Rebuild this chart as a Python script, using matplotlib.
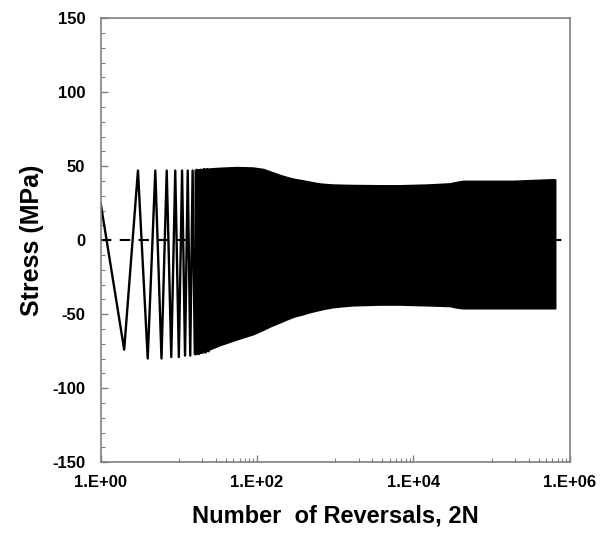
import matplotlib
matplotlib.use('Agg')
import matplotlib.pyplot as plt
import matplotlib.ticker as mticker
import numpy as np

plt.rcParams['font.family'] = ['Liberation Sans', 'DejaVu Sans']
plt.rcParams['font.weight'] = 'bold'
plt.rcParams['axes.unicode_minus'] = False

# early reversals, read one by one (peak / valley at each reversal)
rev_n = list(range(1, 25))
rev_stress = [25, -74, 47, -80, 47, -80, 47, -79, 47, -79, 47, -78,
              47, -78, 47, -77, 47.5, -77, 47.5, -76, 48, -76, 48, -75]

# envelope of the dense part (max / min stress per reversal count)
env_n = [16, 20, 33, 55, 89, 120, 150, 196, 240, 300, 386, 475, 600, 697, 930,
         1300, 1700, 3700, 6700, 15000, 29000, 36000, 43000, 185000, 550000, 650000]
env_upper = [47.5, 48, 48.8, 49.3, 49, 48, 46.2, 44, 42.6, 41.3, 40.3, 39.4, 38.4,
             38, 37.5, 37.3, 37.2, 37, 37, 37.5, 38.3, 39.3, 40, 40, 41, 41]
env_lower = [-77, -75.7, -71, -67, -63.5, -60.5, -58, -55.5, -53.5, -51.5, -50,
             -48.6, -47.3, -46.5, -45.3, -44.5, -44, -43.5, -43.5, -44, -44.5,
             -45.5, -46, -46, -46, -46]

fig = plt.figure(figsize=(6.1, 5.33), dpi=100)
ax = fig.add_axes([0.165, 0.133, 0.769, 0.833])

ax.plot(rev_n, rev_stress, color='black', lw=1.7, solid_joinstyle='round')
ax.fill_between(env_n, env_lower, env_upper, color='black', lw=1.2, edgecolor='black')
ax.axhline(0, color='black', lw=1.5, linestyle=(0, (5, 4)))

ax.set_xscale('log')
ax.set_xlim(1, 1e6)
ax.set_ylim(-150, 150)

ax.xaxis.set_major_locator(mticker.FixedLocator([1, 1e2, 1e4, 1e6]))
ax.xaxis.set_minor_locator(mticker.FixedLocator([k * 10.0**e for e in (1, 3, 5) for k in range(1, 10)]))
ax.xaxis.set_major_formatter(mticker.FuncFormatter(lambda v, p: f"1.E+{int(round(np.log10(v))):02d}"))
ax.xaxis.set_minor_formatter(mticker.NullFormatter())
ax.yaxis.set_major_locator(mticker.MultipleLocator(50))
ax.yaxis.set_minor_locator(mticker.MultipleLocator(10))

for s in ax.spines.values():
    s.set_color('#808080')
    s.set_linewidth(1.2)
ax.tick_params(which='both', direction='in', color='#808080', labelsize=12)
ax.tick_params(which='major', length=5, width=1)
ax.tick_params(which='minor', length=3, width=0.8)
ax.tick_params(axis='y', pad=11)
ax.tick_params(axis='x', pad=9)
for lab in ax.get_xticklabels() + ax.get_yticklabels():
    lab.set_fontweight('bold')

ax.set_xlabel('Number  of Reversals, 2N', fontsize=17, fontweight='bold', labelpad=11)
ax.set_ylabel('Stress (MPa)', fontsize=18, fontweight='bold', labelpad=6)

fig.savefig('out.png', dpi=100)
